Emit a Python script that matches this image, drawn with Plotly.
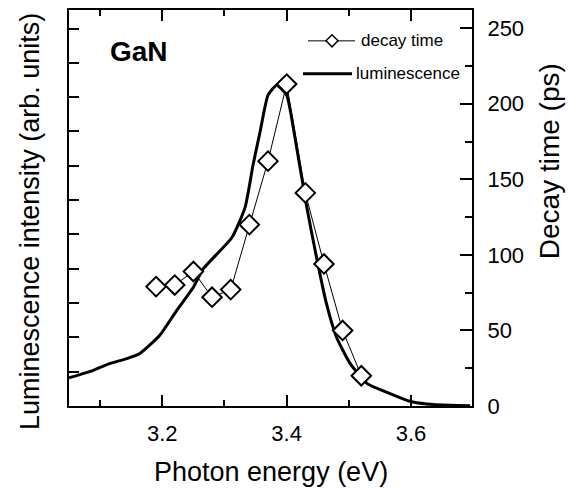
import plotly.graph_objects as go

# ---- data ----
lum_energy = [3.050, 3.089, 3.116, 3.143, 3.164, 3.196, 3.223, 3.250, 3.266, 3.312,
              3.333, 3.346, 3.357, 3.370, 3.384, 3.400, 3.413, 3.432, 3.448, 3.464,
              3.480, 3.502, 3.529, 3.572, 3.598, 3.625, 3.663, 3.695]
lum_intensity = [0.82, 1.04, 1.24, 1.38, 1.53, 2.06, 2.78, 3.46, 4.00, 4.91,
                 5.78, 7.03, 7.97, 9.06, 9.35, 9.06, 7.86, 5.83, 4.33, 2.98,
                 2.01, 1.24, 0.66, 0.32, 0.14, 0.06, 0.02, 0.01]

decay_energy = [3.19, 3.22, 3.25, 3.28, 3.31, 3.34, 3.37, 3.40, 3.43, 3.46, 3.49, 3.52]
decay_ps = [79, 80, 89, 72, 77, 120, 162, 213, 141, 94, 50, 20]

x_tickvals = [3.2, 3.4, 3.6]
x_ticktext = ["3.2", "3.4", "3.6"]
x_minor = [3.1, 3.3, 3.5, 3.7]
y2_tickvals = [0, 50, 100, 150, 200, 250]
y2_ticktext = ["0", "50", "100", "150", "200", "250"]

# ---- geometry (pixels) ----
W, H = 569, 489
L, R, T, B = 69, 472, 8, 406
FONT = "Arial, Liberation Sans, Helvetica, sans-serif"


def px(x):
    return (x - L) / (R - L)


def py(y):
    return (B - y) / (B - T)


fig = go.Figure()
fig.add_trace(go.Scatter(
    x=lum_energy, y=lum_intensity, mode="lines",
    line=dict(color="black", width=3, shape="spline", smoothing=0.5),
    showlegend=False, yaxis="y",
))
fig.add_trace(go.Scatter(
    x=decay_energy, y=decay_ps, mode="lines+markers", yaxis="y2",
    line=dict(color="black", width=1),
    marker=dict(symbol="diamond", size=15, color="white",
                line=dict(color="black", width=2)),
    showlegend=False,
))

axis_common = dict(showline=True, linecolor="black", linewidth=2,
                   showgrid=False, zeroline=False, ticks="inside",
                   tickcolor="black", tickwidth=2)

fig.update_layout(
    width=W, height=H,
    margin=dict(l=L, r=W - R, t=T, b=H - B),
    paper_bgcolor="white", plot_bgcolor="white",
    font=dict(family=FONT, color="black", size=22),
    xaxis=dict(range=[3.05, 3.698], tickvals=x_tickvals, ticktext=x_ticktext,
               ticklen=11, mirror="ticks", ticklabelstandoff=7,
               minor=dict(ticks="inside", ticklen=6, tickwidth=1.5,
                          tickcolor="black", tickvals=x_minor),
               tickfont=dict(size=22), **axis_common),
    yaxis=dict(range=[0, 11.54], dtick=1, tick0=0, ticklen=10,
               showticklabels=False, **axis_common),
    yaxis2=dict(range=[0, 262], overlaying="y", side="right",
                tickvals=y2_tickvals, ticktext=y2_ticktext, ticklen=12,
                ticklabelstandoff=9,
                minor=dict(ticks="inside", ticklen=7, tickwidth=1.5,
                           tickcolor="black", dtick=25, tick0=0),
                tickfont=dict(size=22), **axis_common),
)

ann = []
# axis titles
ann.append(dict(text="Photon energy (eV)", x=px(270.5), y=py(472), xref="paper", yref="paper",
                showarrow=False, font=dict(size=27), xanchor="center", yanchor="middle"))
ann.append(dict(text="Luminescence intensity (arb. units)", x=px(30), y=py(221),
                xref="paper", yref="paper", textangle=-90, showarrow=False,
                font=dict(size=27), xanchor="center", yanchor="middle"))
ann.append(dict(text="Decay time (ps)", x=px(549), y=py(160), xref="paper", yref="paper",
                textangle=-90, showarrow=False, font=dict(size=28),
                xanchor="center", yanchor="middle"))
# GaN label
ann.append(dict(text="<b>GaN</b>", x=px(139), y=py(50), xref="paper", yref="paper",
                showarrow=False, font=dict(size=28), xanchor="center", yanchor="middle"))
# legend texts
ann.append(dict(text="decay time", x=px(359), y=py(39), xref="paper", yref="paper",
                showarrow=False, font=dict(size=17), xanchor="left", yanchor="middle"))
ann.append(dict(text="luminescence", x=px(354), y=py(72), xref="paper", yref="paper",
                showarrow=False, font=dict(size=17), xanchor="left", yanchor="middle"))
fig.update_layout(annotations=ann)

shapes = [
    dict(type="line", xref="paper", yref="paper", x0=px(308), x1=px(355), y0=py(39), y1=py(39),
         line=dict(color="black", width=1)),
    dict(type="path", xref="paper", yref="paper", xsizemode="pixel", ysizemode="pixel",
         xanchor=px(332), yanchor=py(39), path="M -6 0 L 0 6 L 6 0 L 0 -6 Z",
         fillcolor="white", line=dict(color="black", width=1.5)),
    dict(type="line", xref="paper", yref="paper", x0=px(303), x1=px(352), y0=py(72), y1=py(72),
         line=dict(color="black", width=3)),
]
fig.update_layout(shapes=shapes)

fig.write_html("out.html", config={"displayModeBar": False},
               post_script="document.body.style.margin='0';document.body.style.overflow='hidden';")
